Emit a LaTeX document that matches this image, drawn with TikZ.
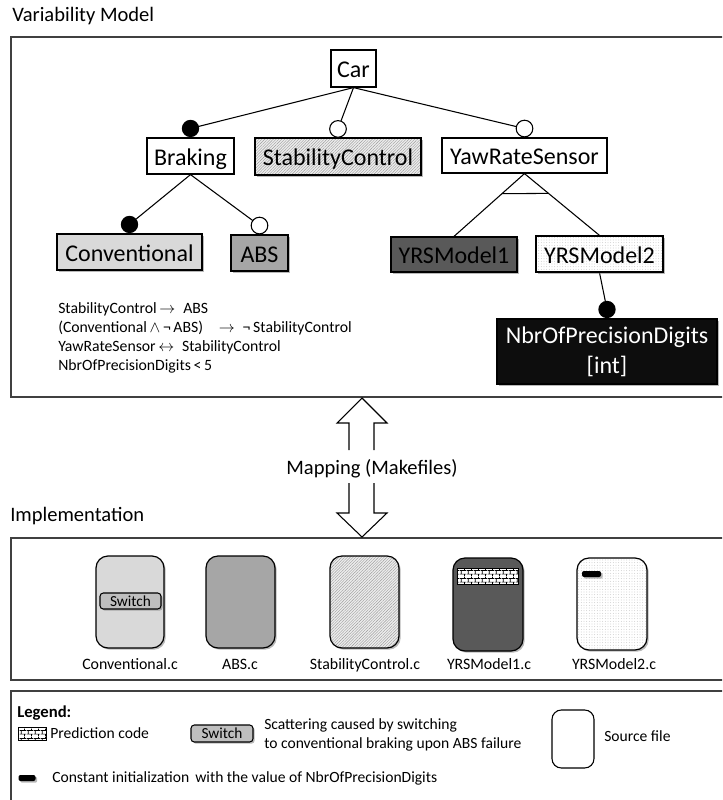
\documentclass[tikz,border=0pt]{standalone}
\usepackage{fontspec}
\setmainfont{Carlito}
\usetikzlibrary{calc,shadows,patterns,patterns.meta,backgrounds}
\definecolor{lightfeat}{HTML}{D9D9D9}
\definecolor{midfeat}{HTML}{A6A6A6}
\definecolor{darkfeat}{HTML}{595959}
\definecolor{switchgray}{HTML}{BFBFBF}
\definecolor{framegray}{HTML}{404040}
\newcommand\pxlen[1]{#1*0.75pt}
\newcommand\fsize[2]{\fontsize{#1}{#2}\selectfont}
% small brick texture marking prediction code
\pgfdeclarepatternformonly{tinybricks}{\pgfpointorigin}{\pgfqpoint{5pt}{6pt}}{\pgfqpoint{5pt}{6pt}}{%
  \pgfsetlinewidth{0.5pt}%
  \pgfpathmoveto{\pgfqpoint{0pt}{1.5pt}}\pgfpathlineto{\pgfqpoint{5pt}{1.5pt}}%
  \pgfpathmoveto{\pgfqpoint{0pt}{4.5pt}}\pgfpathlineto{\pgfqpoint{5pt}{4.5pt}}%
  \pgfpathmoveto{\pgfqpoint{1pt}{1.5pt}}\pgfpathlineto{\pgfqpoint{1pt}{4.5pt}}%
  \pgfpathmoveto{\pgfqpoint{3.5pt}{4.5pt}}\pgfpathlineto{\pgfqpoint{3.5pt}{6pt}}%
  \pgfpathmoveto{\pgfqpoint{3.5pt}{0pt}}\pgfpathlineto{\pgfqpoint{3.5pt}{1.5pt}}%
  \pgfusepath{stroke}}
\begin{document}
\begin{tikzpicture}[x=0.75pt,y=-0.75pt,
  outer/.style={draw=framegray,line width=1.3pt},
  ttl/.style={anchor=base west,inner sep=0,font=\fsize{15.4}{18}},
  feat/.style={draw,line width=0.9pt,inner sep=0,font=\fsize{18}{22},text height=14pt,text depth=0pt},
  dropsh/.style={drop shadow={shadow xshift=1.3pt,shadow yshift=-1.3pt,fill=black!50,opacity=0.55}},
  hatched/.style={preaction={fill=black!7},pattern={Lines[angle=45,distance=1.5pt,line width=0.3pt]},pattern color=black!40},
  dotfill/.style={preaction={fill=white},pattern={Dots[distance=2pt,radius=0.3pt]},pattern color=black!35},
  mand/.style={circle,fill=black,inner sep=0,minimum size=13pt},
  optl/.style={circle,draw,fill=white,line width=0.8pt,inner sep=0,minimum size=12.5pt},
  conn/.style={line width=0.8pt},
  ctext/.style={anchor=base west,inner sep=0,font=\fsize{11.8}{14}},
  srcfile/.style={draw,line width=0.9pt,rounded corners=9pt,inner sep=0,minimum width=\pxlen{69},minimum height=\pxlen{92},dropsh},
  flabel/.style={anchor=base,inner sep=0,font=\fsize{11.9}{14}},
  switchbox/.style={draw,line width=0.8pt,rounded corners=2.5pt,fill=switchgray,inner sep=0,minimum width=\pxlen{61},minimum height=\pxlen{16},font=\fsize{11.5}{13},dropsh},
  brickbox/.style={draw,line width=0.6pt,preaction={fill=white},pattern=tinybricks,inner sep=0},
  constbar/.style={fill=black,rounded corners=1.5pt,inner sep=0,minimum width=\pxlen{19},minimum height=\pxlen{6},dropsh},
  lgtext/.style={anchor=base west,inner sep=0,font=\fsize{11.7}{14}},
]
\path[use as bounding box] (0,0) rectangle (722,800);
\clip (0,0) rectangle (722,800);

% section frames
\draw[outer] (11,37) rectangle (740,397);
\draw[outer] (11,538) rectangle (740,680);
\draw[outer] (11,691) rectangle (740,820);
\node[ttl] (vmtitle) at (12,21) {Variability Model};
\node[ttl] (imtitle) at (10,521) {Implementation};

% feature model
\node[feat,minimum width=\pxlen{45},minimum height=\pxlen{37}] (car) at (353.5,68.5) {Car};
\node[feat,minimum width=\pxlen{87},minimum height=\pxlen{36}] (brk) at (190.5,156) {Braking};
\node[feat,dropsh,hatched,minimum width=\pxlen{166},minimum height=\pxlen{37}] (stab) at (338,156.5) {StabilityControl};
\node[feat,minimum width=\pxlen{165},minimum height=\pxlen{35}] (yrs) at (524.5,155.5) {YawRateSensor};
\node[feat,dropsh,fill=lightfeat,minimum width=\pxlen{145},minimum height=\pxlen{36}] (conv) at (129.5,252) {Conventional};
\node[feat,dropsh,fill=midfeat,minimum width=\pxlen{57},minimum height=\pxlen{36}] (abs) at (259.5,253) {ABS};
\node[feat,dropsh,fill=darkfeat,minimum width=\pxlen{126},minimum height=\pxlen{35}] (m1) at (454,254.5) {YRSModel1};
\node[feat,dropsh,dotfill,minimum width=\pxlen{127},minimum height=\pxlen{36}] (m2) at (599.5,254) {YRSModel2};
\node[draw,line width=0.9pt,inner sep=0,dropsh,fill=black!95,text=white,align=center,font=\fsize{18}{22.5},
      minimum width=\pxlen{220},minimum height=\pxlen{65}] (nbr) at (607,351.5) {NbrOfPrecisionDigits\\\relax [int]};

% mandatory / optional markers
\node[mand,anchor=south] (dbrk) at (brk.north) {};
\node[optl,anchor=south] (dstab) at (stab.north) {};
\node[optl,anchor=south] (dyrs) at (yrs.north) {};
\node[mand,anchor=south] (dconv) at (conv.north) {};
\node[optl,anchor=south] (dabs) at (abs.north) {};
\node[mand,anchor=south] (dnbr) at (nbr.north) {};

\begin{pgfonlayer}{background}
  \draw[conn] (car.south) -- (dbrk.center);
  \draw[conn] (car.south) -- (dstab.center);
  \draw[conn] (car.south) -- (dyrs.center);
  \draw[conn] (brk.south) -- (dconv.center);
  \draw[conn] (brk.south) -- (dabs.center);
  \draw[conn] (yrs.south) -- (m1.north);
  \draw[conn] (yrs.south) -- (m2.north);
  \draw[conn] (m2.south) -- (dnbr.center);
\end{pgfonlayer}
% alternative group bar
\draw[conn] ($(yrs.south)!0.32!(m1.north)$) -- ($(yrs.south)!0.32!(m2.north)$);

% cross-tree constraints
\node[ctext] (c1) at (58,313) {StabilityControl\,$\rightarrow$\enspace ABS};
\node[ctext] (c2) at (58,332) {(Conventional\,$\wedge$\,¬\,ABS)\quad$\rightarrow$\enspace¬\,StabilityControl};
\node[ctext] (c3) at (58,351) {YawRateSensor\,$\leftrightarrow$\enspace StabilityControl};
\node[ctext] (c4) at (58,370) {NbrOfPrecisionDigits\,<\,5};

% mapping double arrow
\node[font=\fsize{15.4}{18},anchor=base,inner sep=0] (map) at (372,474) {Mapping (Makefiles)};
\draw[conn] (349,450) -- (349,423) -- (337,423) -- (362,398) -- (387,423) -- (374,423) -- (374,450);
\draw[conn] (349,483) -- (349,513) -- (337,513) -- (362,537) -- (387,513) -- (374,513) -- (374,483);

% implementation files
\node[srcfile,fill=lightfeat,minimum width=\pxlen{68}] (fconv) at (130,602) {};
\node[switchbox] (sw) at (130.5,601) {Switch};
\node[srcfile,fill=midfeat] (fabs) at (240.5,602) {};
\node[srcfile,hatched] (fstab) at (364.5,602) {};
\node[srcfile,fill=darkfeat,minimum width=\pxlen{70},minimum height=\pxlen{93}] (fm1) at (488,604.5) {};
\node[brickbox,minimum width=\pxlen{61},minimum height=\pxlen{16}] (pred) at (487.5,576) {};
\node[srcfile,dotfill,minimum width=\pxlen{70}] (fm2) at (612,604) {};
\node[constbar] (cbar) at (591.5,574) {};

\node[flabel] (lconv) at (130,669) {Conventional.c};
\node[flabel] (labs) at (240,669) {ABS.c};
\node[flabel] (lstab) at (365,669) {StabilityControl.c};
\node[flabel] (lm1) at (489,669) {YRSModel1.c};
\node[flabel] (lm2) at (614,669) {YRSModel2.c};

% legend
\node[lgtext,font=\fsize{12.5}{14}\bfseries] (lgtitle) at (17,717) {Legend:};
\node[brickbox,minimum width=\pxlen{28},minimum height=\pxlen{13}] (lgbrick) at (32,734) {};
\node[lgtext] (lgpred) at (50,738) {Prediction code};
\node[switchbox,minimum width=\pxlen{62},minimum height=\pxlen{17}] (lgsw) at (222,733.5) {Switch};
\node[lgtext] (lgscat1) at (264,729) {Scattering caused by switching};
\node[lgtext] (lgscat2) at (264,748) {to conventional braking upon ABS failure};
\node[draw,line width=0.8pt,rounded corners=7pt,fill=white,inner sep=0,minimum width=\pxlen{42},minimum height=\pxlen{58}] (lgfile) at (573,739) {};
\node[lgtext] (lgsrc) at (604,741) {Source file};
\node[constbar,minimum width=\pxlen{17}] (lgbar) at (27,778) {};
\node[lgtext] (lgconst) at (52,782) {Constant initialization\, with the value of NbrOfPrecisionDigits};
\end{tikzpicture}
\end{document}
